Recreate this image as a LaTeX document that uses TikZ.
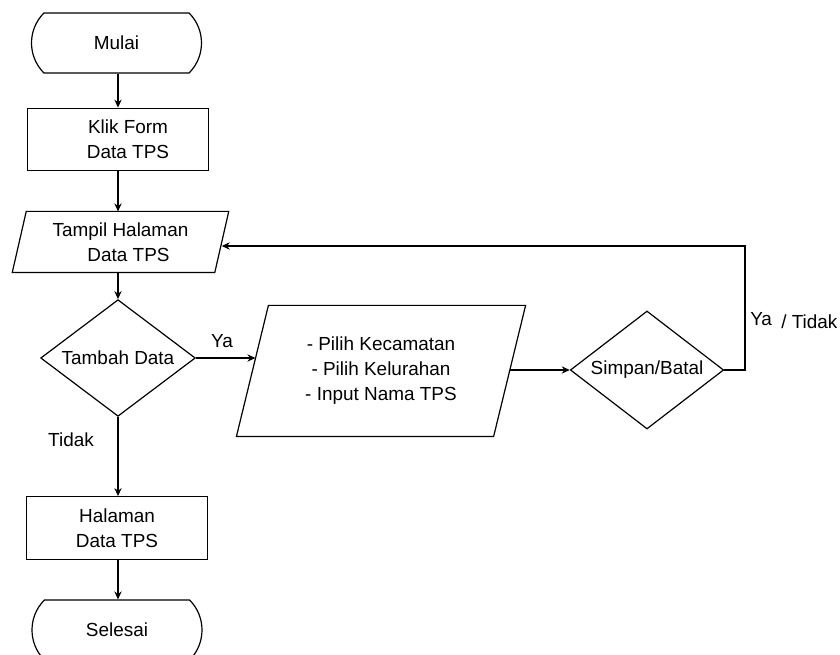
\documentclass[tikz,border=0pt]{standalone}
\usepackage{fontspec}
\setmainfont{Liberation Sans}
\usetikzlibrary{shapes.geometric,shapes.misc,arrows.meta,calc}
\tikzset{
  base/.style={draw=black, line width=0.9pt, inner sep=0pt, align=center,
               font=\fontsize{14.2}{18.8}\selectfont},
  terminal/.style={base, rounded rectangle, rounded rectangle arc length=90,
                   minimum width=127.5pt, minimum height=45pt},
  process/.style={base, rectangle, minimum width=136pt, minimum height=47pt},
  iobox/.style={base, draw=none, rectangle},
  decision/.style={base, diamond, aspect=1.3},
  outline/.style={line width=0.9pt, line join=miter},
  flow/.style={line width=0.9pt, -{Stealth[length=6pt,width=5.5pt,inset=2pt]}},
  lbl/.style={font=\fontsize{14.2}{18.8}\selectfont, inner sep=0pt}
}
\begin{document}
\begin{tikzpicture}[x=0.75pt, y=-0.75pt]
  \useasboundingbox (0,0) rectangle (840,655);
  \clip (0,0) rectangle (840,655);
  \fill[white] (0,0) rectangle (840,655);

  % main column
  \node[terminal] (mulai) at (116.5,43) {Mulai};
  \node[process] (klik) at (118,139.5) {\hspace*{15pt}Klik Form\\\hspace*{15pt}Data TPS};
  \node[iobox, minimum width=151pt, minimum height=45pt] (tampil) at (120.5,242)
       {Tampil Halaman\\\hspace*{12pt}Data TPS};
  \node[decision, minimum width=116pt, minimum height=87.5pt] (tambah) at (118,358) {Tambah Data};
  \node[process] (halaman) at (117,528) {Halaman\\Data TPS};
  \node[terminal] (selesai) at (117,630) {Selesai};

  % input and decision on the right
  \node[iobox, minimum width=192pt, minimum height=97.5pt] (input) at (381,371)
       {- Pilih Kecamatan\\- Pilih Kelurahan\\- Input Nama TPS};
  \node[decision, minimum width=115pt, minimum height=88.5pt] (simpan) at (647,370) {Simpan/Batal};

  % parallelogram outlines of the data nodes
  \draw[outline] ($(tampil.north west)+(7,0)$) -- ($(tampil.north east)+(7,0)$)
     -- ($(tampil.south east)+(-7,0)$) -- ($(tampil.south west)+(-7,0)$) -- cycle;
  \draw[outline] ($(input.north west)+(16,0)$) -- ($(input.north east)+(16,0)$)
     -- ($(input.south east)+(-16,0)$) -- ($(input.south west)+(-16,0)$) -- cycle;

  \coordinate (back) at (745,246);

  % connectors
  \draw[flow] (klik.north |- mulai.south) -- (klik.north);
  \draw[flow] (klik.south) -- (klik.south |- tampil.north);
  \draw[flow] (tambah.north |- tampil.south) -- (tambah.north);
  \draw[flow] (tambah.east) -- ($(tambah.east -| input.west)+(3,0)$);
  \draw[flow] (tambah.south) -- (tambah.south |- halaman.north);
  \draw[flow] (tambah.south |- halaman.south) -- (tambah.south |- selesai.north);
  \draw[flow] (simpan.west -| input.east) -- (simpan.west);
  \draw[flow] (simpan.east) -| (back) -- (back -| tampil.east);

  % branch labels
  \node[lbl] (ya1) at (222,341) {Ya};
  \node[lbl] (tidak1) at (71,440) {Tidak};
  \node[lbl, anchor=west] (yatidak) at (750,320.5) {\raisebox{2.2pt}{Ya}\hspace{3pt} / Tidak};
\end{tikzpicture}
\end{document}
